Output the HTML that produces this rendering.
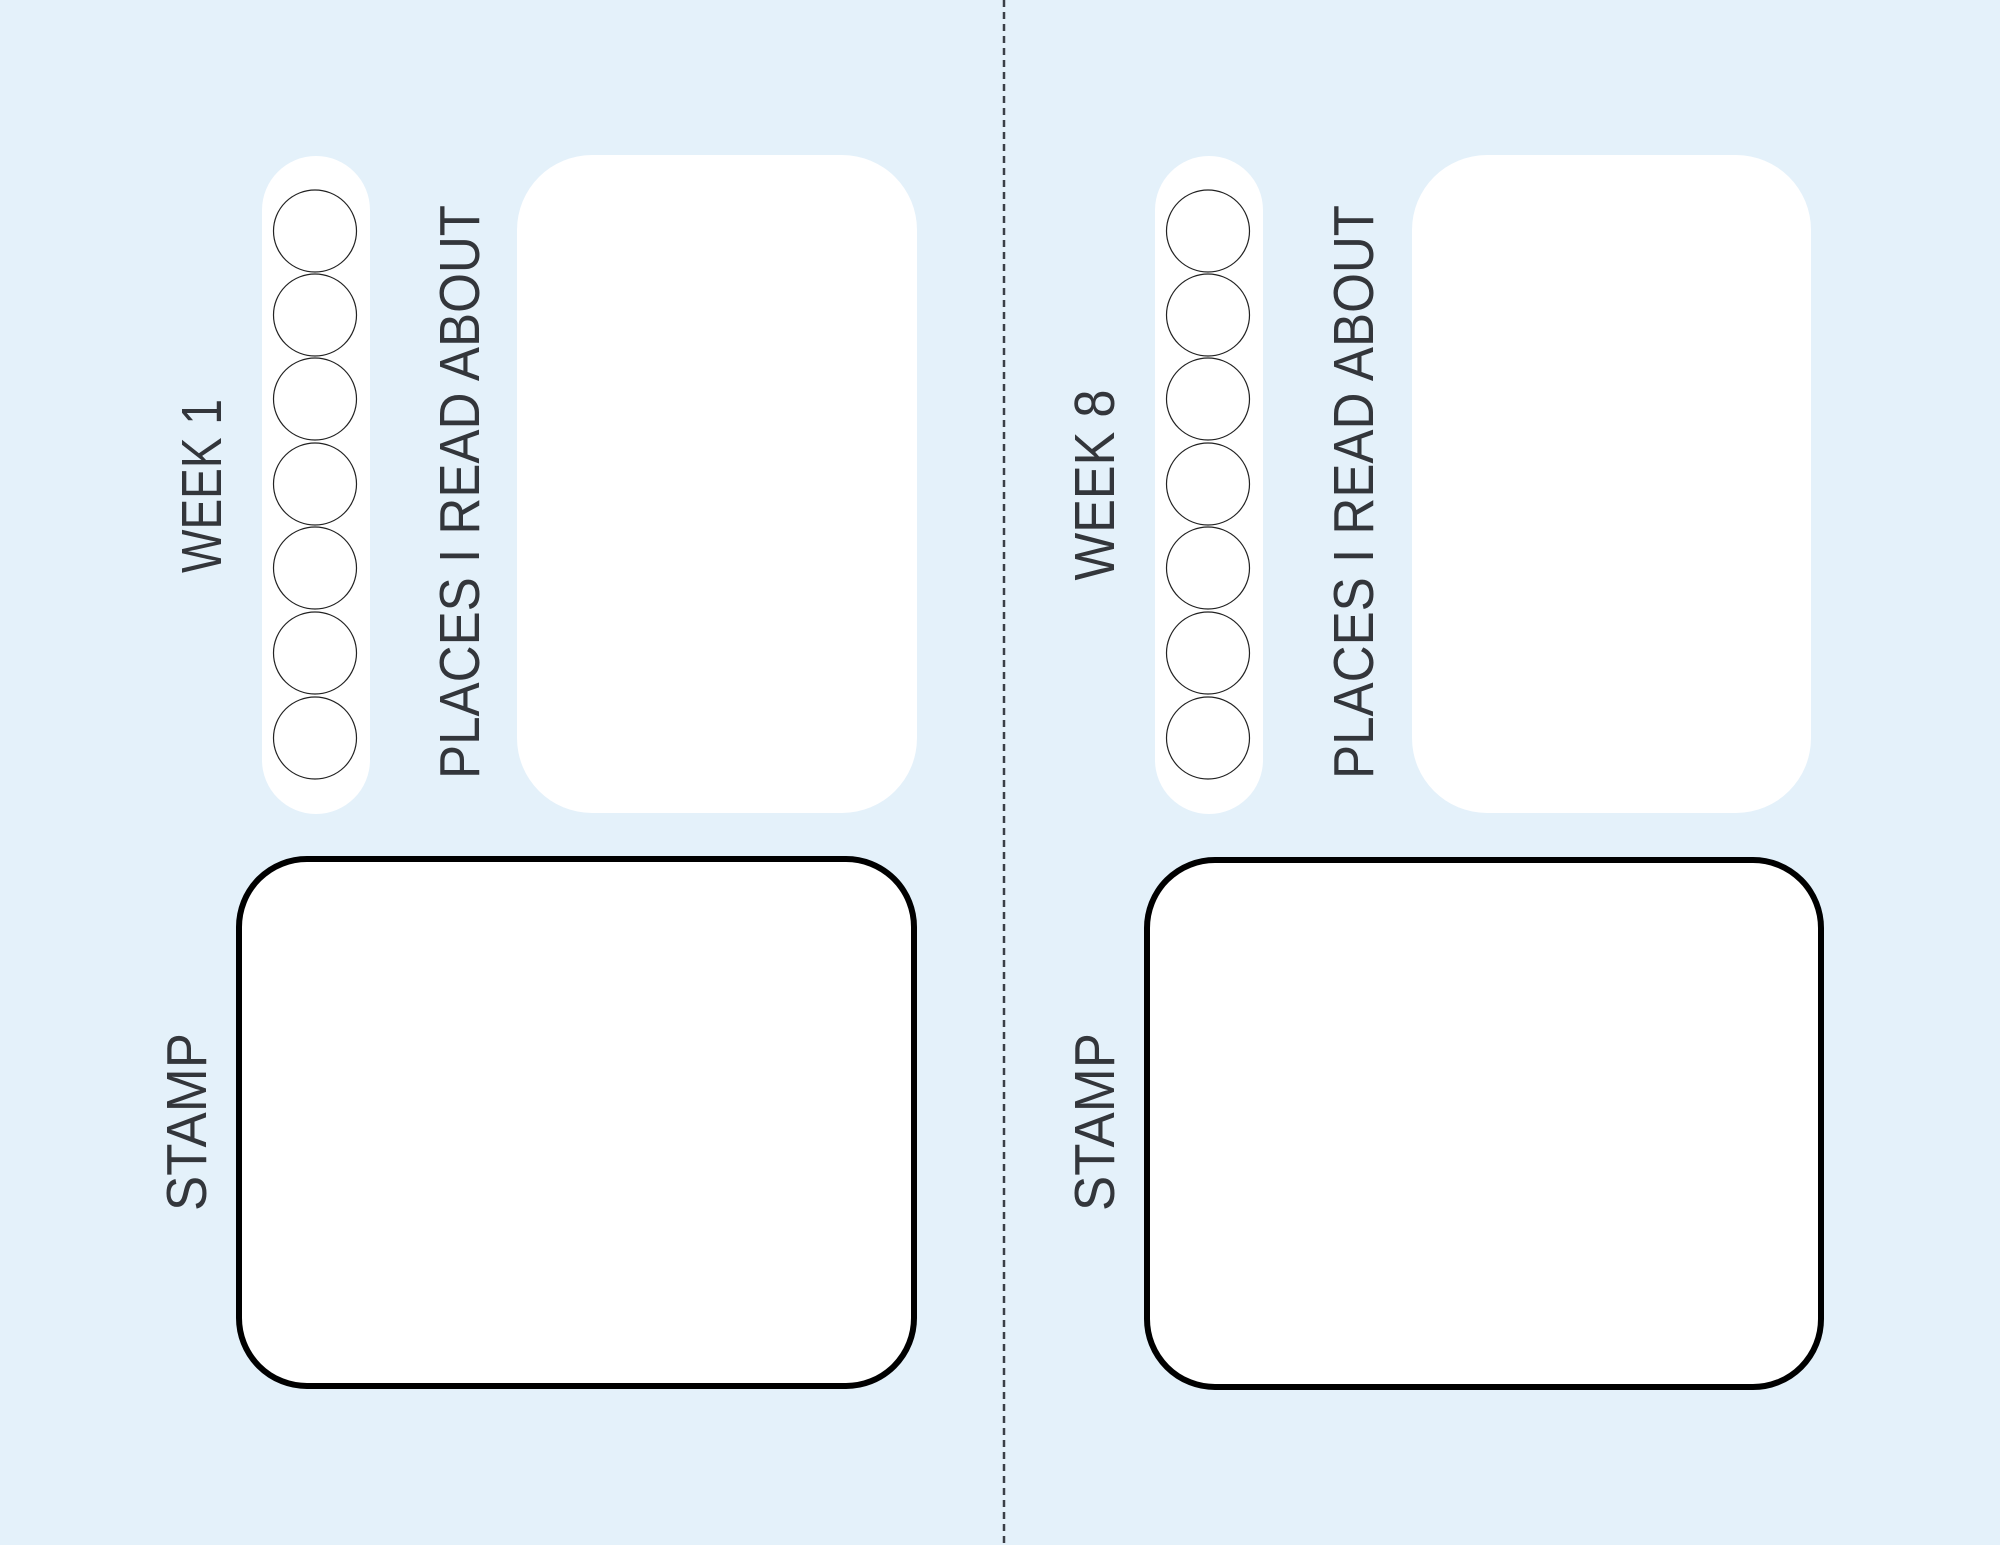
<!DOCTYPE html>
<html><head><meta charset="utf-8"><style>
html,body{margin:0;padding:0;background:#e4f1fa;}
svg{display:block;}
</style></head><body>
<svg width="2000" height="1545" viewBox="0 0 2000 1545" xmlns="http://www.w3.org/2000/svg">
<rect width="2000" height="1545" fill="#e4f1fa"/>
<line x1="1004" y1="0" x2="1004" y2="1545" stroke="#3a3f47" stroke-width="2.5" stroke-dasharray="7,5"/>
<g font-family="Liberation Sans, sans-serif" font-size="57" fill="#33363b">
<!-- left -->
<rect x="262" y="156" width="108" height="658" rx="54" fill="#fff"/>
<g fill="none" stroke="#222" stroke-width="1.2">
<ellipse cx="315" cy="231" rx="41.5" ry="41"/>
<ellipse cx="315" cy="315" rx="41.5" ry="41"/>
<ellipse cx="315" cy="399" rx="41.5" ry="41"/>
<ellipse cx="315" cy="484" rx="41.5" ry="41"/>
<ellipse cx="315" cy="568" rx="41.5" ry="41"/>
<ellipse cx="315" cy="653" rx="41.5" ry="41"/>
<ellipse cx="315" cy="738" rx="41.5" ry="41"/>
</g>
<rect x="517" y="155" width="400" height="658" rx="75" fill="#fff"/>
<rect x="239" y="859" width="675" height="527" rx="68" fill="#fff" stroke="#000" stroke-width="6"/>
<text transform="translate(221,486) rotate(-90)" text-anchor="middle" textLength="174" lengthAdjust="spacingAndGlyphs">WEEK 1</text>
<text transform="translate(479,492) rotate(-90)" text-anchor="middle" textLength="574" lengthAdjust="spacingAndGlyphs">PLACES I READ ABOUT</text>
<text transform="translate(206,1122) rotate(-90)" text-anchor="middle" textLength="178" lengthAdjust="spacingAndGlyphs">STAMP</text>
<!-- right -->
<rect x="1155" y="156" width="108" height="658" rx="54" fill="#fff"/>
<g fill="none" stroke="#222" stroke-width="1.2">
<ellipse cx="1208" cy="231" rx="41.5" ry="41"/>
<ellipse cx="1208" cy="315" rx="41.5" ry="41"/>
<ellipse cx="1208" cy="399" rx="41.5" ry="41"/>
<ellipse cx="1208" cy="484" rx="41.5" ry="41"/>
<ellipse cx="1208" cy="568" rx="41.5" ry="41"/>
<ellipse cx="1208" cy="653" rx="41.5" ry="41"/>
<ellipse cx="1208" cy="738" rx="41.5" ry="41"/>
</g>
<rect x="1412" y="155" width="399" height="658" rx="75" fill="#fff"/>
<rect x="1147" y="860" width="674" height="527" rx="68" fill="#fff" stroke="#000" stroke-width="6"/>
<text transform="translate(1114,485) rotate(-90)" text-anchor="middle" textLength="191" lengthAdjust="spacingAndGlyphs">WEEK 8</text>
<text transform="translate(1373,492) rotate(-90)" text-anchor="middle" textLength="574" lengthAdjust="spacingAndGlyphs">PLACES I READ ABOUT</text>
<text transform="translate(1114,1122) rotate(-90)" text-anchor="middle" textLength="178" lengthAdjust="spacingAndGlyphs">STAMP</text>
</g>
</svg>
</body></html>
